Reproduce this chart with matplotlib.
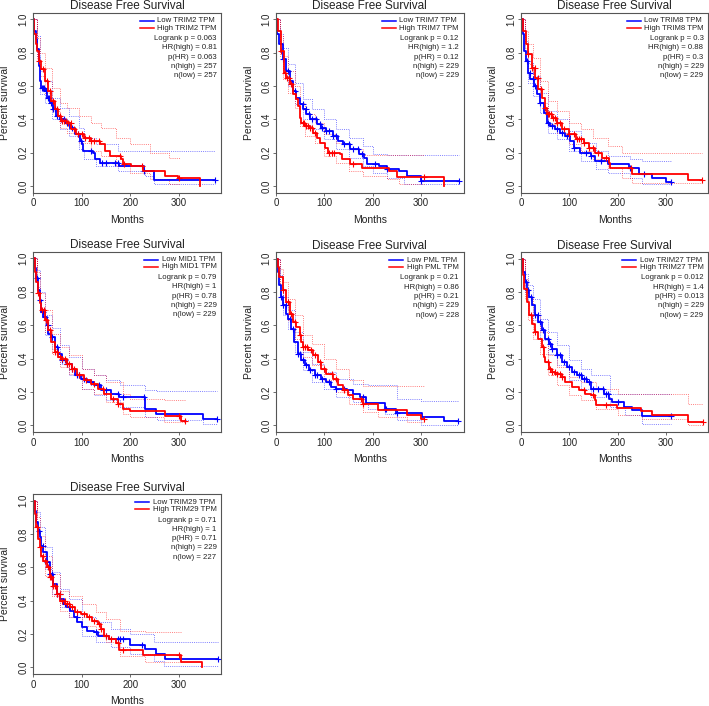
import numpy as np
import matplotlib
matplotlib.use("Agg")
import matplotlib.pyplot as plt
from matplotlib.lines import Line2D

# --- data (months, survival fraction) ---
# each curve: step times t, survival s, censor times cens
# each band: step times t, upper hi, lower lo

trim2_low = dict(
    t=[0, 3, 6, 9, 12, 15, 17, 24, 28, 34, 41, 48, 55, 65, 76, 86, 96, 101, 103, 124, 127, 137, 177, 228, 249, 374],
    s=[1.0, 0.93, 0.88, 0.82, 0.72, 0.63, 0.59, 0.57, 0.53, 0.50, 0.46, 0.42, 0.40, 0.38, 0.35, 0.31, 0.27, 0.25, 0.21, 0.20, 0.16, 0.14, 0.12, 0.09, 0.035, 0.035],
    cens=[18, 21, 23, 26, 30, 33, 37, 41, 45, 50, 57, 63, 70, 80, 92, 98, 120, 143, 150, 168, 175, 228, 374])
trim2_low_ci = dict(
    t=[0, 8, 15, 25, 40, 55, 75, 95, 105, 130, 175, 230, 250, 374],
    hi=[1.0, 0.90, 0.69, 0.63, 0.53, 0.47, 0.42, 0.35, 0.29, 0.25, 0.21, 0.21, 0.21, 0.21],
    lo=[1.0, 0.78, 0.55, 0.50, 0.40, 0.34, 0.30, 0.22, 0.16, 0.12, 0.09, 0.06, 0.01, 0.01])
trim2_high = dict(
    t=[0, 3, 6, 8, 12, 17, 24, 31, 38, 45, 52, 58, 69, 79, 89, 106, 120, 137, 148, 158, 182, 185, 202, 227, 271, 299, 343],
    s=[1.0, 0.91, 0.85, 0.81, 0.75, 0.70, 0.63, 0.57, 0.51, 0.46, 0.42, 0.39, 0.38, 0.34, 0.31, 0.29, 0.27, 0.25, 0.21, 0.18, 0.16, 0.13, 0.12, 0.09, 0.06, 0.045, 0.0],
    cens=[12, 20, 28, 35, 42, 50, 55, 60, 64, 68, 73, 78, 85, 92, 100, 108, 115, 120, 125, 135, 180, 187, 225, 300])
trim2_high_ci = dict(
    t=[0, 8, 15, 25, 40, 55, 70, 95, 120, 140, 170, 200, 240, 280, 302],
    hi=[1.0, 0.89, 0.80, 0.71, 0.59, 0.50, 0.47, 0.42, 0.38, 0.35, 0.29, 0.25, 0.20, 0.17, 0.17],
    lo=[1.0, 0.76, 0.66, 0.56, 0.45, 0.35, 0.32, 0.26, 0.21, 0.18, 0.12, 0.08, 0.04, 0.01, 0.01])
trim2_stats = ["0.063", "0.81", "0.063", "257", "257"]

trim7_low = dict(
    t=[0, 3, 7, 14, 21, 28, 35, 42, 49, 56, 63, 70, 84, 94, 104, 118, 129, 139, 153, 171, 181, 188, 212, 230, 254, 271, 299, 378],
    s=[1.0, 0.91, 0.85, 0.76, 0.69, 0.63, 0.57, 0.53, 0.49, 0.46, 0.43, 0.40, 0.37, 0.35, 0.33, 0.30, 0.27, 0.25, 0.22, 0.19, 0.17, 0.13, 0.12, 0.10, 0.09, 0.06, 0.03, 0.03],
    cens=[15, 25, 40, 55, 62, 68, 75, 82, 90, 96, 104, 110, 118, 125, 140, 150, 160, 170, 178, 205, 230, 300, 378])
trim7_low_ci = dict(
    t=[0, 8, 15, 25, 40, 55, 75, 100, 125, 150, 180, 200, 230, 265, 378],
    hi=[1.0, 0.91, 0.83, 0.73, 0.62, 0.52, 0.46, 0.40, 0.34, 0.29, 0.24, 0.19, 0.185, 0.185, 0.185],
    lo=[1.0, 0.80, 0.70, 0.60, 0.49, 0.40, 0.34, 0.28, 0.22, 0.17, 0.12, 0.08, 0.05, 0.01, 0.01])
trim7_high = dict(
    t=[0, 4, 10, 17, 21, 28, 35, 42, 45, 49, 52, 59, 70, 77, 84, 91, 101, 108, 132, 136, 153, 178, 233, 251, 348],
    s=[1.0, 0.93, 0.81, 0.68, 0.65, 0.61, 0.55, 0.52, 0.48, 0.41, 0.38, 0.36, 0.35, 0.32, 0.29, 0.26, 0.23, 0.20, 0.19, 0.16, 0.13, 0.105, 0.09, 0.055, 0.0],
    cens=[10, 18, 22, 26, 30, 55, 58, 62, 66, 70, 75, 80, 110, 115, 120, 160, 305])
trim7_high_ci = dict(
    t=[0, 8, 15, 25, 40, 50, 60, 80, 100, 125, 150, 180, 230, 255, 305],
    hi=[1.0, 0.90, 0.78, 0.69, 0.60, 0.50, 0.43, 0.38, 0.31, 0.26, 0.22, 0.185, 0.185, 0.185, 0.185],
    lo=[1.0, 0.78, 0.64, 0.56, 0.47, 0.36, 0.30, 0.26, 0.18, 0.14, 0.09, 0.06, 0.04, 0.01, 0.01])
trim7_stats = ["0.12", "1.2", "0.12", "229", "229"]

trim8_low = dict(
    t=[0, 4, 6, 10, 14, 19, 26, 33, 40, 47, 54, 60, 71, 81, 92, 102, 109, 123, 144, 154, 179, 224, 245, 272, 300, 310],
    s=[1.0, 0.91, 0.81, 0.75, 0.68, 0.64, 0.60, 0.55, 0.50, 0.44, 0.38, 0.36, 0.34, 0.32, 0.30, 0.27, 0.23, 0.20, 0.18, 0.15, 0.13, 0.11, 0.07, 0.05, 0.025, 0.025],
    cens=[12, 18, 24, 30, 40, 55, 65, 75, 85, 95, 110, 135, 145, 165, 225, 255, 310])
trim8_low_ci = dict(
    t=[0, 8, 15, 25, 40, 55, 75, 100, 125, 155, 180, 225, 250, 310],
    hi=[1.0, 0.87, 0.74, 0.66, 0.56, 0.45, 0.40, 0.33, 0.26, 0.21, 0.18, 0.16, 0.15, 0.15],
    lo=[1.0, 0.75, 0.62, 0.54, 0.44, 0.32, 0.28, 0.21, 0.15, 0.10, 0.08, 0.05, 0.01, 0.01])
trim8_high = dict(
    t=[0, 5, 10, 15, 22, 29, 36, 43, 49, 54, 64, 74, 85, 99, 113, 130, 140, 154, 168, 182, 185, 229, 345, 375],
    s=[1.0, 0.93, 0.85, 0.79, 0.71, 0.65, 0.58, 0.53, 0.47, 0.43, 0.41, 0.38, 0.34, 0.31, 0.28, 0.26, 0.23, 0.20, 0.17, 0.14, 0.105, 0.07, 0.035, 0.035],
    cens=[15, 22, 28, 35, 42, 50, 55, 58, 62, 66, 70, 75, 80, 90, 100, 110, 115, 120, 125, 130, 140, 150, 160, 175, 228, 375])
trim8_high_ci = dict(
    t=[0, 8, 15, 25, 40, 55, 75, 100, 125, 150, 180, 210, 230, 375],
    hi=[1.0, 0.93, 0.85, 0.77, 0.63, 0.51, 0.45, 0.38, 0.34, 0.29, 0.24, 0.20, 0.20, 0.20],
    lo=[1.0, 0.83, 0.73, 0.64, 0.50, 0.37, 0.32, 0.25, 0.21, 0.16, 0.11, 0.05, 0.02, 0.02])
trim8_stats = ["0.3", "0.88", "0.3", "229", "229"]

mid1_low = dict(
    t=[0, 4, 7, 10, 14, 17, 21, 28, 31, 38, 45, 52, 59, 70, 80, 87, 98, 112, 126, 140, 160, 178, 230, 253, 349, 379],
    s=[1.0, 0.94, 0.88, 0.81, 0.75, 0.68, 0.65, 0.60, 0.55, 0.53, 0.47, 0.43, 0.39, 0.37, 0.34, 0.30, 0.28, 0.26, 0.24, 0.21, 0.19, 0.17, 0.10, 0.07, 0.035, 0.035],
    cens=[8, 15, 20, 25, 30, 40, 50, 60, 65, 70, 80, 90, 95, 105, 120, 135, 150, 175, 185, 228, 379])
mid1_low_ci = dict(
    t=[0, 8, 15, 25, 40, 55, 75, 100, 125, 150, 180, 230, 255, 350, 379],
    hi=[1.0, 0.93, 0.80, 0.66, 0.58, 0.48, 0.41, 0.34, 0.30, 0.27, 0.24, 0.21, 0.205, 0.205, 0.205],
    lo=[1.0, 0.83, 0.69, 0.54, 0.46, 0.37, 0.30, 0.22, 0.18, 0.15, 0.11, 0.05, 0.03, 0.01, 0.01])
mid1_high = dict(
    t=[0, 4, 7, 10, 14, 17, 24, 31, 38, 45, 52, 59, 70, 80, 91, 105, 119, 133, 147, 161, 175, 185, 199, 272, 304, 313],
    s=[1.0, 0.92, 0.86, 0.79, 0.73, 0.69, 0.63, 0.57, 0.50, 0.44, 0.41, 0.40, 0.37, 0.34, 0.30, 0.27, 0.25, 0.22, 0.19, 0.16, 0.13, 0.10, 0.085, 0.055, 0.025, 0.025],
    cens=[10, 18, 22, 26, 35, 45, 50, 55, 60, 65, 70, 75, 80, 85, 95, 110, 125, 145, 165, 175, 300, 313])
mid1_high_ci = dict(
    t=[0, 8, 15, 25, 40, 55, 75, 100, 125, 150, 185, 200, 270, 313],
    hi=[1.0, 0.92, 0.79, 0.69, 0.55, 0.47, 0.42, 0.34, 0.30, 0.26, 0.19, 0.16, 0.15, 0.15],
    lo=[1.0, 0.81, 0.68, 0.56, 0.43, 0.35, 0.31, 0.22, 0.19, 0.14, 0.07, 0.05, 0.02, 0.02])
mid1_stats = ["0.79", "1", "0.78", "229", "229"]

pml_low = dict(
    t=[0, 4, 7, 10, 14, 21, 24, 31, 38, 45, 52, 59, 69, 80, 94, 104, 114, 125, 146, 159, 173, 187, 225, 248, 301, 347, 376],
    s=[1.0, 0.92, 0.84, 0.77, 0.72, 0.67, 0.64, 0.58, 0.50, 0.43, 0.39, 0.36, 0.33, 0.30, 0.28, 0.26, 0.23, 0.22, 0.21, 0.19, 0.17, 0.135, 0.10, 0.075, 0.048, 0.024, 0.024],
    cens=[10, 15, 20, 28, 35, 45, 50, 55, 62, 70, 80, 85, 95, 110, 125, 140, 180, 225, 228, 250, 376])
pml_low_ci = dict(
    t=[0, 8, 15, 25, 40, 55, 75, 100, 125, 160, 190, 225, 250, 300, 376],
    hi=[1.0, 0.90, 0.77, 0.69, 0.56, 0.44, 0.37, 0.32, 0.28, 0.25, 0.24, 0.24, 0.16, 0.145, 0.145],
    lo=[1.0, 0.78, 0.66, 0.58, 0.44, 0.33, 0.26, 0.22, 0.17, 0.14, 0.10, 0.07, 0.03, 0.005, 0.005])
pml_high = dict(
    t=[0, 4, 7, 14, 21, 28, 35, 42, 49, 52, 55, 66, 76, 87, 94, 104, 118, 129, 139, 149, 159, 180, 211, 270, 300, 306],
    s=[1.0, 0.95, 0.89, 0.81, 0.74, 0.67, 0.62, 0.59, 0.54, 0.50, 0.47, 0.45, 0.42, 0.38, 0.34, 0.31, 0.28, 0.24, 0.21, 0.18, 0.16, 0.13, 0.094, 0.065, 0.04, 0.04],
    cens=[15, 25, 30, 40, 50, 55, 60, 65, 72, 80, 90, 100, 115, 125, 140, 175, 180, 306])
pml_high_ci = dict(
    t=[0, 8, 15, 25, 40, 55, 75, 100, 125, 150, 180, 210, 270, 306],
    hi=[1.0, 0.94, 0.86, 0.76, 0.66, 0.54, 0.49, 0.40, 0.34, 0.27, 0.235, 0.235, 0.235, 0.235],
    lo=[1.0, 0.84, 0.74, 0.63, 0.52, 0.41, 0.36, 0.27, 0.20, 0.13, 0.08, 0.05, 0.02, 0.02])
pml_stats = ["0.21", "0.86", "0.21", "229", "228"]

trim27_low = dict(
    t=[0, 4, 8, 12, 17, 22, 29, 36, 43, 50, 57, 64, 74, 85, 95, 106, 116, 126, 137, 144, 172, 182, 189, 213, 229, 251, 310],
    s=[1.0, 0.92, 0.86, 0.81, 0.77, 0.72, 0.66, 0.62, 0.57, 0.52, 0.49, 0.46, 0.42, 0.38, 0.35, 0.32, 0.30, 0.28, 0.26, 0.22, 0.19, 0.16, 0.14, 0.11, 0.09, 0.055, 0.055],
    cens=[10, 15, 20, 30, 35, 40, 45, 55, 60, 65, 75, 80, 90, 100, 110, 120, 125, 130, 135, 140, 150, 160, 170, 175, 180, 200, 310])
trim27_low_ci = dict(
    t=[0, 8, 15, 25, 40, 55, 75, 100, 125, 145, 185, 215, 250, 310],
    hi=[1.0, 0.91, 0.84, 0.76, 0.64, 0.56, 0.48, 0.39, 0.34, 0.30, 0.19, 0.19, 0.19, 0.19],
    lo=[1.0, 0.80, 0.72, 0.63, 0.51, 0.43, 0.36, 0.27, 0.22, 0.17, 0.11, 0.06, 0.01, 0.01])
trim27_high = dict(
    t=[0, 4, 7, 12, 17, 22, 29, 36, 43, 47, 50, 57, 64, 71, 85, 92, 106, 119, 133, 144, 154, 156, 199, 248, 272, 345, 376],
    s=[1.0, 0.90, 0.82, 0.74, 0.66, 0.61, 0.56, 0.52, 0.47, 0.41, 0.38, 0.34, 0.32, 0.31, 0.29, 0.26, 0.23, 0.21, 0.19, 0.18, 0.15, 0.125, 0.105, 0.085, 0.06, 0.02, 0.02],
    cens=[20, 30, 45, 55, 60, 65, 70, 75, 80, 85, 130, 150, 175, 376])
trim27_high_ci = dict(
    t=[0, 8, 15, 25, 40, 55, 75, 100, 125, 155, 200, 250, 345, 376],
    hi=[1.0, 0.88, 0.77, 0.66, 0.56, 0.42, 0.35, 0.29, 0.26, 0.22, 0.19, 0.19, 0.13, 0.13],
    lo=[1.0, 0.76, 0.63, 0.52, 0.43, 0.30, 0.24, 0.18, 0.15, 0.10, 0.06, 0.04, 0.005, 0.005])
trim27_stats = ["0.012", "1.4", "0.013", "229", "229"]

trim29_low = dict(
    t=[0, 4, 7, 10, 14, 17, 21, 28, 35, 42, 49, 56, 63, 70, 77, 84, 91, 101, 112, 126, 133, 157, 199, 230, 253, 272, 380],
    s=[1.0, 0.94, 0.87, 0.82, 0.78, 0.73, 0.69, 0.63, 0.56, 0.50, 0.44, 0.41, 0.38, 0.36, 0.34, 0.30, 0.27, 0.24, 0.22, 0.21, 0.19, 0.17, 0.135, 0.11, 0.08, 0.05, 0.05],
    cens=[12, 20, 28, 35, 40, 50, 55, 65, 75, 90, 130, 150, 175, 180, 185, 225, 380])
trim29_low_ci = dict(
    t=[0, 8, 15, 25, 40, 55, 75, 100, 130, 160, 200, 250, 270, 380],
    hi=[1.0, 0.93, 0.84, 0.72, 0.57, 0.47, 0.41, 0.30, 0.27, 0.23, 0.20, 0.155, 0.155, 0.155],
    lo=[1.0, 0.82, 0.70, 0.59, 0.44, 0.36, 0.30, 0.19, 0.15, 0.12, 0.08, 0.04, 0.01, 0.01])
trim29_high = dict(
    t=[0, 4, 7, 10, 14, 17, 21, 28, 35, 42, 49, 56, 66, 77, 87, 98, 112, 122, 133, 140, 147, 157, 171, 178, 227, 304, 348],
    s=[1.0, 0.92, 0.84, 0.77, 0.72, 0.67, 0.64, 0.60, 0.54, 0.49, 0.44, 0.40, 0.38, 0.36, 0.33, 0.32, 0.30, 0.28, 0.26, 0.23, 0.19, 0.17, 0.145, 0.105, 0.075, 0.035, 0.0],
    cens=[8, 15, 20, 25, 30, 35, 38, 42, 45, 50, 55, 60, 65, 70, 75, 80, 90, 105, 115, 125, 135, 140, 150, 160, 175, 185, 300])
trim29_high_ci = dict(
    t=[0, 8, 15, 25, 40, 55, 75, 100, 130, 150, 180, 230, 305],
    hi=[1.0, 0.90, 0.79, 0.67, 0.56, 0.46, 0.43, 0.38, 0.33, 0.29, 0.22, 0.215, 0.215],
    lo=[1.0, 0.78, 0.66, 0.55, 0.43, 0.34, 0.30, 0.25, 0.20, 0.15, 0.07, 0.03, 0.03])
trim29_stats = ["0.71", "1", "0.71", "229", "227"]

genes = ["TRIM2", "TRIM7", "TRIM8", "MID1", "PML", "TRIM27", "TRIM29"]

# panel boxes in pixels: left, top, right, bottom
boxes = [(33, 12.7, 221.5, 192.5), (276, 12.7, 463.7, 192.5), (521, 12.7, 708.5, 192.5),
         (33, 251.7, 221.5, 432), (276, 252, 463.7, 432), (521, 252, 708.5, 432),
         (33, 494, 221.5, 674)]

W, H = 709, 706
BLUE = "#0000FF"
RED = "#FF0000"
TXT = "#222222"

plt.rcParams['font.family'] = ['Liberation Sans', 'DejaVu Sans']
fig = plt.figure(figsize=(W / 100, H / 100), dpi=100)


def fx(x):
    return x / W


def fy(y):
    return 1 - y / H


def draw_panel(box, gene, low, low_ci, high, high_ci, stats):
    l, t, r, b = box
    ax = fig.add_axes([fx(l), fy(b), (r - l) / W, (b - t) / H])

    # confidence bands (dotted)
    for ci, col in ((low_ci, BLUE), (high_ci, RED)):
        for key in ("hi", "lo"):
            ax.step(ci["t"], ci[key], where="post", color=col, lw=0.7,
                    alpha=0.5, ls=(0, (1, 1.2)))

    # KM curves + censor marks
    for grp, col in ((low, BLUE), (high, RED)):
        tt = np.asarray(grp["t"], dtype=float)
        ss = np.asarray(grp["s"], dtype=float)
        ax.step(tt, ss, where="post", color=col, lw=1.3)
        cens = np.asarray(grp["cens"], dtype=float)
        idx = np.clip(np.searchsorted(tt, cens, side="right") - 1, 0, len(ss) - 1)
        ax.plot(cens, ss[idx], "+", color=col, ms=4, mew=0.8)

    ax.set_xlim(0, 388)
    ax.set_ylim(-0.04, 1.04)
    ax.set_xticks([0, 100, 200, 300])
    ax.set_yticks([0.0, 0.2, 0.4, 0.6, 0.8, 1.0])
    ax.set_yticklabels(["0.0", "0.2", "0.4", "0.6", "0.8", "1.0"])
    ax.tick_params(direction="out", length=2.2, width=0.6, color="#555555",
                   labelcolor=TXT, labelsize=6.9, pad=1.8)
    ax.tick_params(axis="y", pad=1.0)
    for lab in ax.get_yticklabels():
        lab.set_rotation(90)
        lab.set_va("center")
    for sp in ax.spines.values():
        sp.set_color("#555555")
        sp.set_linewidth(0.8)

    cx = (l + r) / 2
    fig.text(fx(cx), fy(t - 3.3), "Disease Free Survival", ha="center", va="baseline",
             fontsize=8.5, color=TXT)
    fig.text(fx(cx), fy(b + 30.5), "Months", ha="center", va="baseline",
             fontsize=7.5, color=TXT)
    fig.text(fx(l - 27.5), fy((t + b) / 2), "Percent survival", ha="center", va="center",
             rotation=90, fontsize=7.5, color=TXT)

    # legend + stats, right aligned near top right corner
    rx = r - 5
    lines = ["Logrank p = " + stats[0], "HR(high) = " + stats[1], "p(HR) = " + stats[2],
             "n(high) = " + stats[3], "n(low) = " + stats[4]]
    for off, txt in zip([26, 35.2, 44.4, 53.8, 63.1], lines):
        fig.text(fx(rx), fy(t + off), txt, ha="right", va="center", fontsize=5.6, color=TXT)
    high_txt = fig.text(fx(rx), fy(t + 15.3), "High " + gene + " TPM", ha="right",
                        va="center", fontsize=5.6, color=TXT)
    fig.canvas.draw()
    x_left = high_txt.get_window_extent().x0
    fig.text(x_left / W, fy(t + 8), "Low " + gene + " TPM", ha="left", va="center",
             fontsize=5.6, color=TXT)
    for off, col in ((8, BLUE), (15.3, RED)):
        fig.add_artist(Line2D([fx(x_left - 17.4), fx(x_left - 3.4)], [fy(t + off)] * 2,
                              color=col, lw=1.1, transform=fig.transFigure))


panels = [
    (trim2_low, trim2_low_ci, trim2_high, trim2_high_ci, trim2_stats),
    (trim7_low, trim7_low_ci, trim7_high, trim7_high_ci, trim7_stats),
    (trim8_low, trim8_low_ci, trim8_high, trim8_high_ci, trim8_stats),
    (mid1_low, mid1_low_ci, mid1_high, mid1_high_ci, mid1_stats),
    (pml_low, pml_low_ci, pml_high, pml_high_ci, pml_stats),
    (trim27_low, trim27_low_ci, trim27_high, trim27_high_ci, trim27_stats),
    (trim29_low, trim29_low_ci, trim29_high, trim29_high_ci, trim29_stats),
]

for box, gene, p in zip(boxes, genes, panels):
    draw_panel(box, gene, *p)

fig.savefig("out.png", dpi=100)
